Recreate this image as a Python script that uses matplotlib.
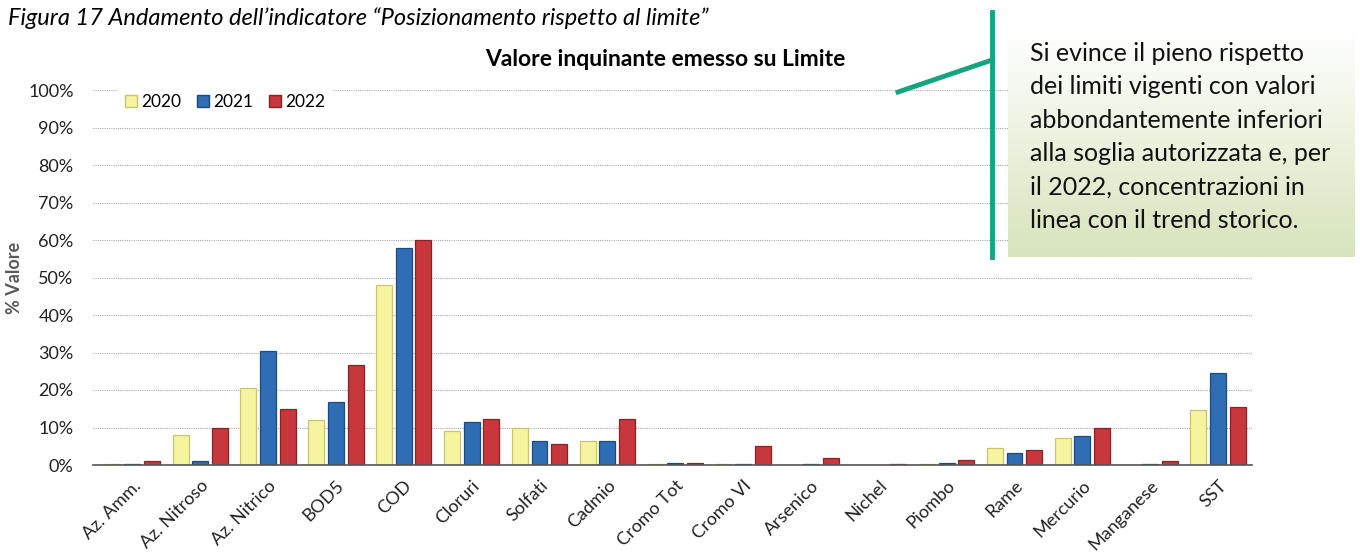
import numpy as np
import matplotlib.pyplot as plt
from matplotlib.lines import Line2D
from matplotlib.patches import Patch
from matplotlib.colors import LinearSegmentedColormap

plt.rcParams['font.family'] = ['Lato', 'DejaVu Sans']

# data (% of limit)
categories = ['Az. Amm.', 'Az. Nitroso', 'Az. Nitrico', 'BOD5', 'COD', 'Cloruri',
              'Solfati', 'Cadmio', 'Cromo Tot', 'Cromo VI', 'Arsenico', 'Nichel',
              'Piombo', 'Rame', 'Mercurio', 'Manganese', 'SST']
years = ['2020', '2021', '2022']
v2020 = [0.3, 8.0, 20.5, 12.0, 48.0, 9.0, 10.0, 6.3, 0.3, 0.3, 0.1, 0.1, 0.3, 4.5, 7.3, 0.1, 14.8]
v2021 = [0.2, 1.2, 30.5, 16.7, 58.0, 11.6, 6.3, 6.3, 0.6, 0.4, 0.2, 0.0, 0.6, 3.2, 7.7, 0.2, 24.5]
v2022 = [1.2, 10.0, 15.0, 26.8, 60.0, 12.4, 5.5, 12.4, 0.6, 5.0, 2.0, 0.2, 1.3, 4.0, 10.0, 1.0, 15.6]

fills = ['#F7F4A0', '#2F6DB4', '#C7373B']
edges = ['#C9C56E', '#1E4A7E', '#8A2226']

fig = plt.figure(figsize=(13.6, 5.53), dpi=100)
ax = fig.add_axes([93 / 1360, 1 - 465 / 553, 1159 / 1360, 375 / 553])

x = np.arange(len(categories))
w = 0.235
step = 0.29
for i, vals in enumerate([v2020, v2021, v2022]):
    ax.bar(x + (i - 1) * step, vals, width=w, color=fills[i], edgecolor=edges[i],
           linewidth=0.9, zorder=3)

ax.set_xlim(-0.58, 16.5)
ax.set_ylim(0, 100)
ax.set_yticks(np.arange(0, 101, 10))
ax.set_yticklabels([f'{t}%' for t in range(0, 101, 10)], fontsize=13, color='#222222')
ax.set_xticks(x)
ax.set_xticklabels(categories, rotation=45, ha='right', rotation_mode='anchor',
                   fontsize=13, color='#222222')
ax.tick_params(axis='both', length=0)
ax.tick_params(axis='y', pad=14)
ax.tick_params(axis='x', pad=9)
ax.grid(axis='y', color='#aaaaaa', linestyle=(0, (1, 1)), linewidth=0.8, zorder=0)
for s in ['left', 'right', 'top']:
    ax.spines[s].set_visible(False)
ax.spines['bottom'].set_color('#555555')
ax.spines['bottom'].set_linewidth(1.2)
ax.spines['bottom'].set_zorder(4)

ax.set_ylabel('% Valore', fontsize=13, fontweight='bold', color='#595959', labelpad=4)

handles = [Patch(facecolor=fills[i], edgecolor=edges[i]) for i in range(3)]
leg = ax.legend(handles, years, loc='upper left', bbox_to_anchor=(0.014, 1.03), ncol=3,
                frameon=True, framealpha=1, edgecolor='none', fontsize=12.5,
                handlelength=0.7, handleheight=0.7, handletextpad=0.25, columnspacing=0.9)
leg.set_zorder(5)

fig.text(665 / 1360, 1 - 60 / 553, 'Valore inquinante emesso su Limite', ha='center',
         va='center', fontsize=16.5, fontweight='bold')
fig.text(8 / 1360, 1 - 18 / 553,
         'Figura 17 Andamento dell\u2019indicatore \u201cPosizionamento rispetto al limite\u201d',
         ha='left', va='center', fontsize=17, style='italic')

# callout box with vertical gradient
box = fig.add_axes([1008 / 1360, 1 - 257 / 553, 347 / 1360, 227 / 553])
cmap = LinearSegmentedColormap.from_list('g', ['#FFFFFF', '#D7E4BC'])
box.imshow(np.linspace(0, 1, 200).reshape(-1, 1), cmap=cmap, aspect='auto',
           extent=[0, 1, 0, 1], origin='upper')
box.axis('off')

note = ('Si evince il pieno rispetto\ndei limiti vigenti con valori\n'
        'abbondantemente inferiori\nalla soglia autorizzata e, per\n'
        'il 2022, concentrazioni in\nlinea con il trend storico.')
fig.text(1030 / 1360, 1 - 137 / 553, note, ha='left', va='center', fontsize=18,
         linespacing=1.55, color='#111111')

green = '#14A57E'
fig.add_artist(Line2D([992 / 1360, 992 / 1360], [1 - 12 / 553, 1 - 257 / 553],
                      color=green, linewidth=3.5))
fig.add_artist(Line2D([898 / 1360, 992 / 1360], [1 - 92 / 553, 1 - 60 / 553],
                      color=green, linewidth=3.5))

fig.savefig('out.png', dpi=100)
